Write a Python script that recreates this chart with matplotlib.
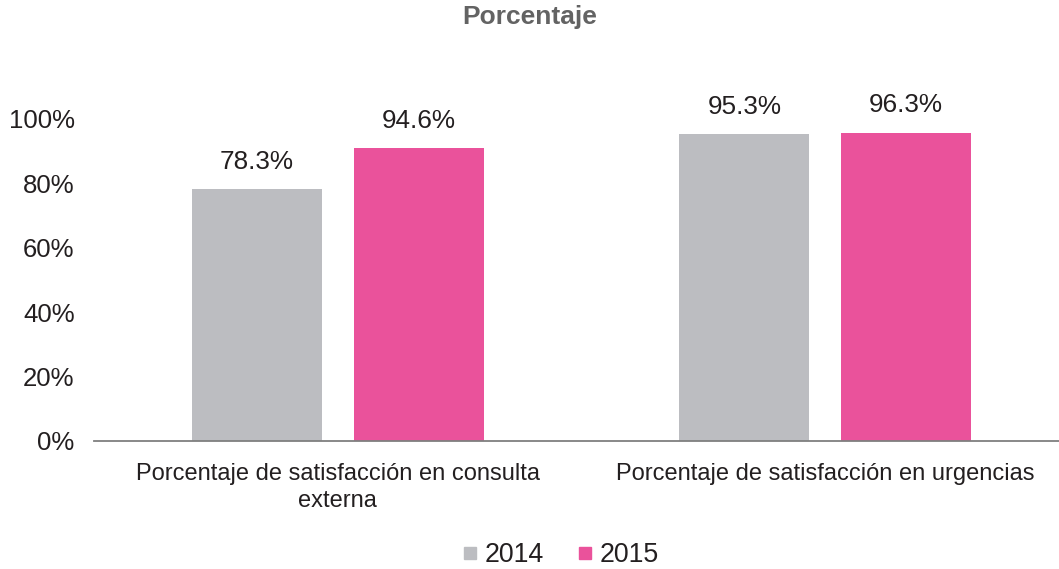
import matplotlib.pyplot as plt
import numpy as np
from matplotlib.lines import Line2D
from matplotlib.ticker import FuncFormatter

categories = ["Porcentaje de satisfacción en consulta\nexterna",
              "Porcentaje de satisfacción en urgencias"]
years = ["2014", "2015"]
# bar heights as drawn in the source chart (%)
values_2014 = [78.3, 95.2]
values_2015 = [91.1, 95.8]
# printed labels
labels_2014 = ["78.3%", "95.3%"]
labels_2015 = ["94.6%", "96.3%"]
y_ticks = [0, 20, 40, 60, 80, 100]

colors = ["#BCBDC1", "#EA529B"]
text_color = "#231F20"

plt.rcParams["font.family"] = ["Liberation Sans", "DejaVu Sans"]

W, H = 1059, 569
fig = plt.figure(figsize=(W / 100, H / 100), dpi=100)
ax = fig.add_axes([94 / W, (H - 441) / H, 975 / W, 322 / H])

x = np.arange(len(categories))
width = 0.267
offset = 0.166
series = [(values_2014, labels_2014), (values_2015, labels_2015)]
for k, (vals, labs) in enumerate(series):
    pos = x + (k * 2 - 1) * offset
    ax.bar(pos, vals, width=width, color=colors[k], label=years[k], zorder=2)
    for px, v, lab in zip(pos, vals, labs):
        ax.annotate(lab, (px, v), xytext=(0, 19.5), textcoords="offset points",
                    ha="center", va="center", fontsize=18.8, color=text_color,
                    annotation_clip=False)

ax.set_xlim(-0.5, 1.5)
ax.set_ylim(0, 100)
ax.set_yticks(y_ticks)
ax.yaxis.set_major_formatter(FuncFormatter(lambda y, _: f"{y:.0f}%"))
ax.set_xticks(x)
ax.set_xticklabels(categories, fontsize=17, color=text_color, linespacing=1.3)
ax.tick_params(axis="y", length=0, pad=14, labelsize=18.5, labelcolor=text_color)
ax.tick_params(axis="x", length=0, pad=16)
for side in ["top", "right", "left"]:
    ax.spines[side].set_visible(False)
ax.spines["bottom"].set_color("#7F7F7F")
ax.spines["bottom"].set_linewidth(1.3)
ax.spines["bottom"].set_zorder(3)

fig.text(0.5, 1 - 17 / H, "Porcentaje", ha="center", va="center",
         fontsize=19, fontweight="bold", color="#636363")

handles = [Line2D([], [], marker="s", linestyle="none", markersize=8,
                  markerfacecolor=c, markeredgecolor=c) for c in colors]
fig.legend(handles, years, loc="center", bbox_to_anchor=(562 / W, 1 - 555 / H),
           ncol=2, frameon=False, fontsize=19.3, handlelength=0.41,
           handletextpad=0.34, columnspacing=1.34, labelcolor=text_color,
           borderpad=0, borderaxespad=0)

fig.savefig("out.png", dpi=100)
